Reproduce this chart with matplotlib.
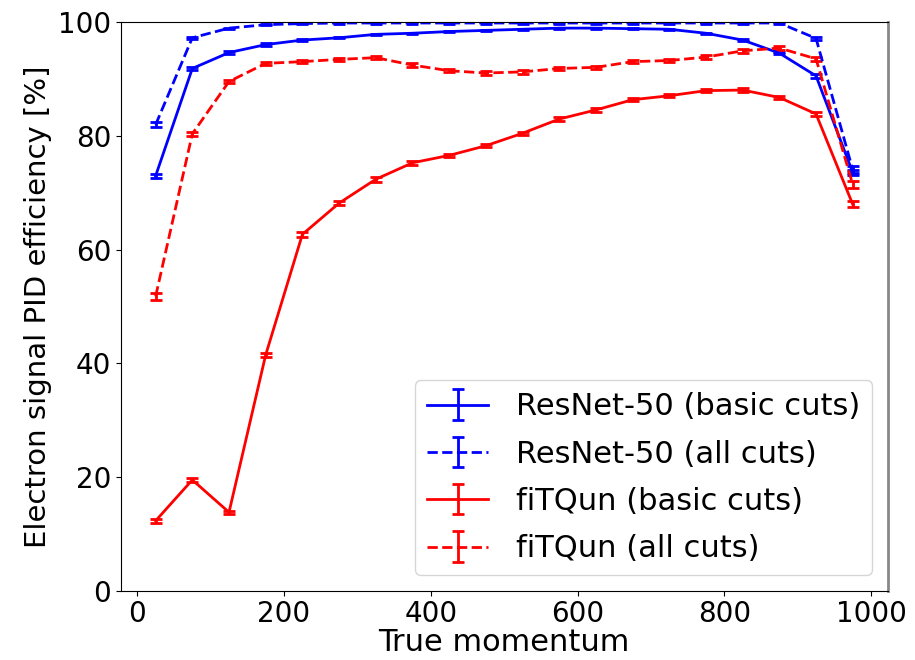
import numpy as np
import matplotlib.pyplot as plt

# momentum bin centres (MeV/c)
momentum = [25, 75, 125, 175, 225, 275, 325, 375, 425, 475,
            525, 575, 625, 675, 725, 775, 825, 875, 925, 975]

# efficiencies in percent
resnet_basic = [73.0, 91.9, 94.7, 96.1, 96.9, 97.3, 97.9, 98.1, 98.4, 98.6,
                98.8, 99.0, 99.0, 98.9, 98.8, 98.1, 96.9, 94.6, 90.6, 73.6]
resnet_all = [82.0, 97.3, 99.0, 99.6, 99.8, 99.9, 99.9, 99.9, 99.9, 99.9,
              99.9, 99.9, 99.9, 99.9, 99.9, 99.9, 99.9, 99.9, 97.2, 74.1]
fitqun_basic = [12.3, 19.5, 13.8, 41.5, 62.7, 68.2, 72.4, 75.3, 76.6, 78.3,
                80.5, 83.0, 84.6, 86.4, 87.1, 88.0, 88.1, 86.8, 83.9, 68.0]
fitqun_all = [51.8, 80.4, 89.6, 92.8, 93.1, 93.5, 93.8, 92.5, 91.5, 91.1,
              91.3, 91.9, 92.1, 93.1, 93.3, 93.9, 95.0, 95.5, 93.6, 71.5]

# statistical errors
resnet_basic_err = [0.4, 0.2, 0.2, 0.2, 0.1, 0.1, 0.1, 0.1, 0.1, 0.1,
                    0.1, 0.1, 0.1, 0.1, 0.1, 0.1, 0.1, 0.2, 0.3, 0.5]
resnet_all_err = [0.4, 0.2, 0.1, 0.1, 0.1, 0.1, 0.1, 0.1, 0.1, 0.1,
                  0.1, 0.1, 0.1, 0.1, 0.1, 0.1, 0.1, 0.1, 0.3, 0.6]
fitqun_basic_err = [0.3, 0.3, 0.3, 0.4, 0.4, 0.4, 0.4, 0.3, 0.3, 0.3,
                    0.3, 0.3, 0.3, 0.3, 0.3, 0.3, 0.3, 0.3, 0.4, 0.5]
fitqun_all_err = [0.6, 0.4, 0.3, 0.3, 0.3, 0.3, 0.3, 0.3, 0.3, 0.3,
                  0.3, 0.3, 0.3, 0.3, 0.3, 0.3, 0.3, 0.3, 0.4, 0.6]

plt.rcParams['font.size'] = 20

fig = plt.figure(figsize=(9.15, 6.6), dpi=100)
ax = fig.add_axes([0.132, 0.105, 0.838, 0.861])

ekw = dict(capsize=4, capthick=2, linewidth=2, elinewidth=2)
ax.errorbar(momentum, resnet_basic, yerr=resnet_basic_err, color='blue',
            linestyle='-', label='ResNet-50 (basic cuts)', **ekw)
ax.errorbar(momentum, resnet_all, yerr=resnet_all_err, color='blue',
            linestyle='--', label='ResNet-50 (all cuts)', **ekw)
ax.errorbar(momentum, fitqun_basic, yerr=fitqun_basic_err, color='red',
            linestyle='-', label='fiTQun (basic cuts)', **ekw)
ax.errorbar(momentum, fitqun_all, yerr=fitqun_all_err, color='red',
            linestyle='--', label='fiTQun (all cuts)', **ekw)

ax.set_ylim(0, 100)
ax.set_xticks([0, 200, 400, 600, 800, 1000])
ax.set_xlabel('True momentum', fontsize=22, labelpad=0)
ax.set_ylabel('Electron signal PID efficiency [%]', fontsize=21, labelpad=4)
ax.spines['right'].set_color('#888888')
ax.spines['right'].set_linewidth(2)

ax.legend(loc='lower right', fontsize=22, labelspacing=0.6, handletextpad=0.9)

fig.savefig('out.png', dpi=100)
